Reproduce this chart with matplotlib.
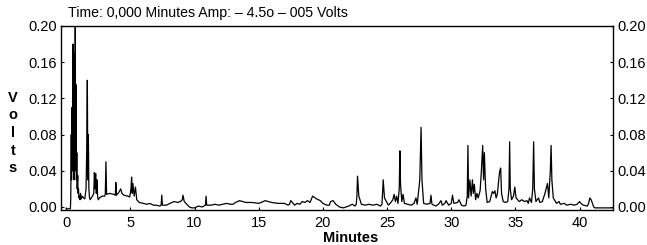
import matplotlib
matplotlib.use("Agg")
import matplotlib.pyplot as plt
import numpy as np

plt.rcParams['font.family'] = ['Liberation Sans', 'DejaVu Sans']

# Chromatogramm (Minuten, Volt)
t = [0.0, 0.2, 0.33, 0.36, 0.40, 0.42, 0.46, 0.50, 0.53, 0.56, 0.60, 0.62, 0.65,
     0.68, 0.71, 0.74, 0.77, 0.80, 0.83, 0.86, 0.90, 0.93, 0.96, 1.00, 1.04, 1.08,
     1.12, 1.18, 1.25, 1.35, 1.45, 1.55, 1.60, 1.65, 1.69, 1.73, 1.77, 1.82, 1.88,
     1.95, 2.05, 2.15, 2.20, 2.25, 2.30, 2.35, 2.40, 2.45, 2.50, 2.60, 2.80, 3.00,
     3.05, 3.10, 3.15, 3.40, 3.70, 3.83, 3.87, 3.92, 4.10, 4.25, 4.35, 4.50, 4.80,
     4.95, 5.05, 5.10, 5.15, 5.20, 5.30, 5.40, 5.50, 5.70, 6.00, 6.30, 6.50, 6.80,
     7.00, 7.30, 7.40, 7.45, 7.50, 7.80, 8.10, 8.40, 8.70, 8.90, 9.05, 9.10, 9.20,
     9.40, 9.60, 9.80, 10.0, 10.3, 10.6, 10.85, 10.9, 10.95, 11.3, 11.6, 11.9,
     12.2, 12.5, 12.8, 13.0, 13.2, 13.5, 14.0, 14.5, 15.0, 15.2, 15.5, 16.0, 16.5,
     17.0, 17.3, 17.4, 17.5, 17.8, 18.0, 18.2, 18.4, 18.6, 18.8, 19.0, 19.2, 19.5,
     19.8, 20.0, 20.3, 20.5, 20.6, 20.8, 21.0, 21.3, 21.6, 22.0, 22.3, 22.5, 22.6,
     22.65, 22.7, 22.8, 23.0, 23.3, 23.6, 23.9, 24.2, 24.5, 24.6, 24.65, 24.7,
     24.8, 25.1, 25.3, 25.45, 25.55, 25.65, 25.75, 25.85, 25.95, 26.0, 26.05,
     26.15, 26.25, 26.35, 26.6, 26.9, 27.1, 27.25, 27.35, 27.55, 27.65, 27.72,
     27.85, 28.1, 28.35, 28.42, 28.5, 28.8, 29.0, 29.2, 29.3, 29.5, 29.6, 29.8,
     30.0, 30.1, 30.2, 30.5, 30.6, 30.8, 31.0, 31.15, 31.25, 31.3, 31.35, 31.45,
     31.55, 31.65, 31.72, 31.8, 31.9, 32.0, 32.1, 32.25, 32.35, 32.45, 32.52,
     32.58, 32.68, 32.8, 33.0, 33.2, 33.3, 33.4, 33.5, 33.6, 33.7, 33.78, 33.85,
     33.92, 34.05, 34.25, 34.4, 34.5, 34.55, 34.6, 34.7, 34.85, 34.95, 35.05,
     35.3, 35.5, 35.7, 35.9, 36.0, 36.1, 36.25, 36.35, 36.42, 36.48, 36.6, 36.8,
     36.9, 37.1, 37.3, 37.5, 37.6, 37.72, 37.78, 37.84, 37.95, 38.2, 38.4, 38.5,
     38.8, 39.0, 39.3, 39.6, 39.8, 40.0, 40.1, 40.3, 40.6, 40.7, 40.8, 40.9, 41.0,
     41.1, 41.2, 42.6]
v = [-0.002, -0.002, -0.002, 0.01, 0.08, 0.03, 0.11, 0.04, 0.18, 0.05, 0.17, 0.03,
     0.12, 0.06, 0.21, 0.04, 0.135, 0.03, 0.06, 0.02, 0.035, 0.015, 0.02, 0.01,
     0.012, 0.008, 0.015, 0.009, 0.012, 0.01, 0.009, 0.02, 0.06, 0.14, 0.03,
     0.08, 0.02, 0.01, 0.008, 0.01, 0.012, 0.015, 0.038, 0.02, 0.037, 0.015,
     0.03, 0.012, 0.008, 0.01, 0.012, 0.012, 0.014, 0.05, 0.014, 0.015, 0.014,
     0.013, 0.027, 0.013, 0.016, 0.02, 0.015, 0.013, 0.012, 0.011, 0.02, 0.033,
     0.015, 0.026, 0.012, 0.022, 0.008, 0.005, 0.004, 0.003, 0.004, 0.002, 0.002,
     0.001, 0.002, 0.013, 0.002, 0.002, 0.004, 0.006, 0.005, 0.006, 0.008, 0.013,
     0.006, 0.003, 0.0, -0.001, -0.001, 0.001, 0.0, 0.002, 0.012, 0.002, 0.002,
     0.003, 0.002, 0.003, 0.004, 0.003, 0.003, 0.005, 0.007, 0.005, 0.005, 0.004,
     0.005, 0.007, 0.005, 0.004, 0.004, 0.002, 0.003, 0.007, 0.002, 0.004, 0.003,
     0.006, 0.005, 0.007, 0.005, 0.012, 0.009, 0.007, 0.004, 0.002, 0.002, 0.006,
     0.007, 0.003, 0.0, -0.001, 0.001, 0.003, 0.001, 0.003, 0.012, 0.034, 0.012,
     0.003, 0.002, 0.003, 0.002, 0.003, 0.001, 0.003, 0.015, 0.03, 0.01, 0.002,
     0.005, 0.008, 0.014, 0.006, 0.012, 0.004, 0.02, 0.062, 0.025, 0.006, 0.014,
     0.004, 0.003, 0.002, 0.004, 0.01, 0.003, 0.03, 0.088, 0.03, 0.004, 0.003,
     0.004, 0.013, 0.003, 0.001, 0.003, 0.007, 0.002, 0.004, 0.007, 0.002, 0.004,
     0.013, 0.004, 0.005, 0.008, 0.002, 0.001, 0.002, 0.012, 0.068, 0.01, 0.03,
     0.012, 0.03, 0.015, 0.025, 0.008, 0.015, 0.01, 0.018, 0.04, 0.068, 0.03,
     0.06, 0.02, 0.005, 0.006, 0.017, 0.015, 0.018, 0.01, 0.015, 0.03, 0.04,
     0.043, 0.015, 0.006, 0.005, 0.006, 0.02, 0.072, 0.02, 0.008, 0.012, 0.022,
     0.01, 0.006, 0.008, 0.006, 0.007, 0.004, 0.01, 0.005, 0.02, 0.072, 0.02,
     0.006, 0.01, 0.005, 0.006, 0.015, 0.026, 0.01, 0.04, 0.068, 0.03, 0.01,
     0.004, 0.006, 0.003, 0.004, 0.002, 0.003, 0.002, 0.003, 0.006, 0.004, 0.002,
     0.001, 0.004, 0.01, 0.008, 0.004, 0.0, -0.001, -0.001]

xticks = [0, 5, 10, 15, 20, 25, 30, 35, 40]
yticks = [0.00, 0.04, 0.08, 0.12, 0.16, 0.20]

fig = plt.figure(figsize=(6.47, 2.45), dpi=100)
ax = fig.add_axes([0.0943, 0.143, 0.8531, 0.751])

ax.plot(t, v, color='black', lw=0.9)

ax.set_xlim(-0.4, 42.6)
ax.set_ylim(-0.0033, 0.2)
ax.set_xticks(xticks)
ax.set_yticks(yticks)
ax.set_yticklabels([f'{y:.2f}' for y in yticks])
ax.tick_params(axis='both', labelsize=10.5, direction='in', length=2, width=0.8,
               pad=3, right=True, labelright=True)
ax.tick_params(axis='x', pad=4)
for s in ax.spines.values():
    s.set_linewidth(1.0)

fig.text(68/647, 1 - 17/245, 'Time: 0,000 Minutes Amp: \u2013 4.5o \u2013 005 Volts',
         fontsize=10.2, ha='left', va='baseline')
fig.text(351/647, 1 - 238/245, 'Minutes', fontsize=10.5, fontweight='bold',
         ha='center', va='center')
fig.text(13/647, 1 - 133/245, 'V\no\nl\nt\ns', fontsize=10.5, fontweight='bold',
         ha='center', va='center', linespacing=1.32)

plt.savefig('out.png', dpi=100)
